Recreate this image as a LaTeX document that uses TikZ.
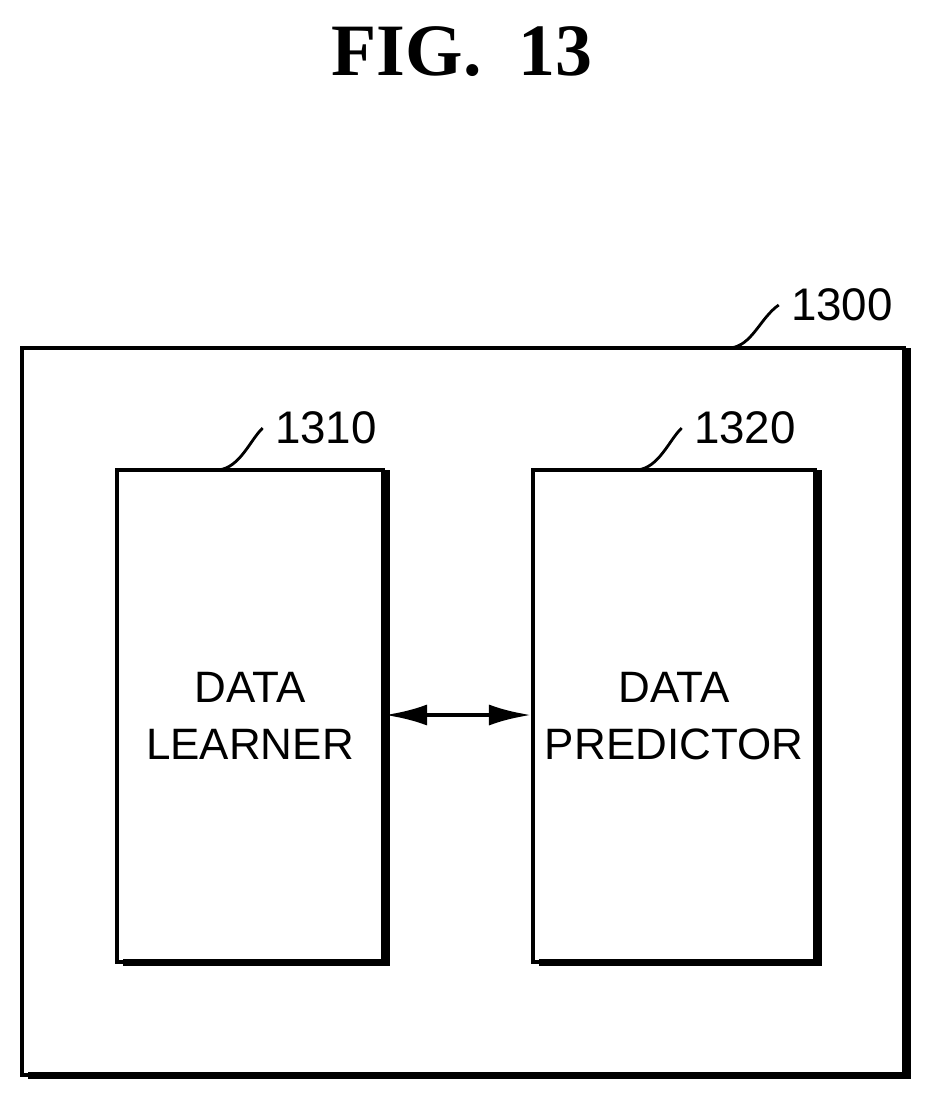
\documentclass[tikz,border=0pt]{standalone}
\usepackage{fontspec}
\setmainfont{Liberation Serif}
\newfontfamily\lab{Liberation Sans}
\usetikzlibrary{arrows.meta}
\begin{document}
\begin{tikzpicture}[x=0.01cm,y=-0.01cm,
  box/.style={draw,line width=1.1pt,inner sep=0},
  num/.style={font=\lab\fontsize{13}{15}\selectfont},
  txt/.style={font=\lab\fontsize{12.5}{16}\selectfont,align=center},
  lead/.style={line width=0.8pt}]
\useasboundingbox (0,0) rectangle (926,1097);
\node[font=\bfseries\fontsize{21}{24}\selectfont] (title) at (462,52) {FIG.\ \ 13};
% outer
\node[box,minimum width=882*0.01cm,minimum height=727*0.01cm] (outer) at (463,711.5) {};
\draw[line width=2pt] (outer.north east)++(2,2) -- ++(0,727) -- ++(-880,0);
\node[box,minimum width=266*0.01cm,minimum height=492*0.01cm] (l) at (250,716) {};
\draw[line width=2pt] (l.north east)++(2,2) -- ++(0,492) -- ++(-264,0);
\node[box,minimum width=282*0.01cm,minimum height=492*0.01cm] (r) at (674,716) {};
\draw[line width=2pt] (r.north east)++(2,2) -- ++(0,492) -- ++(-280,0);
\node[txt] at (l.center) {DATA\\LEARNER};
\node[txt] at (r.center) {DATA\\PREDICTOR};
\draw[line width=1.2pt,{Latex[length=12pt,width=6pt]}-{Latex[length=12pt,width=6pt]}] (l.east|-0,715) -- (r.west|-0,715);
\node[num] (n1300) at (842,305) {1300};
\node[num] (n1310) at (326,428) {1310};
\node[num] (n1320) at (745,428) {1320};
\coordinate (c0) at (730,348); \coordinate (c1) at (218,470); \coordinate (c2) at (637,470);
\draw[lead] (c0) .. controls (752,346) and (760,318) .. (n1300.west);
\draw[lead] (c1) .. controls (240,468) and (250,440) .. (n1310.west);
\draw[lead] (c2) .. controls (659,468) and (669,440) .. (n1320.west);
\end{tikzpicture}
\end{document}
